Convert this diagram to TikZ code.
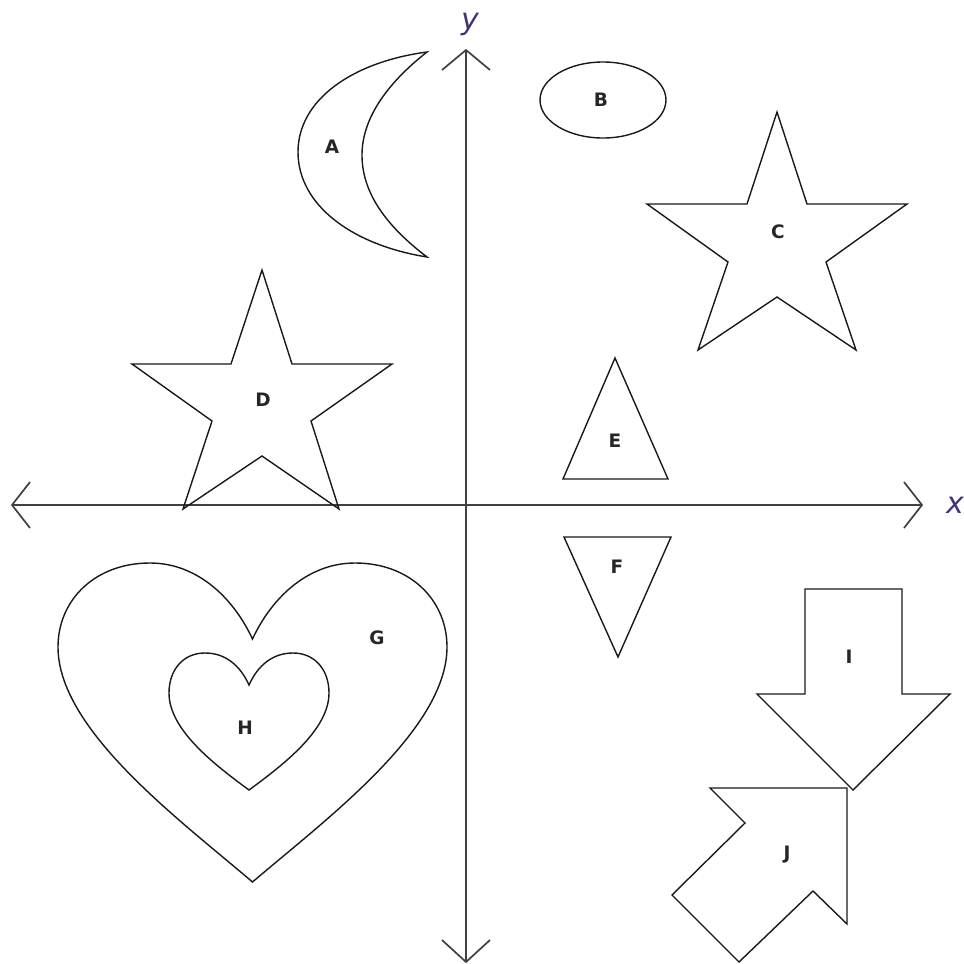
\documentclass[tikz,border=0pt]{standalone}
\usepackage{fontspec}
\setmainfont{DejaVu Sans}
\begin{document}
\begin{tikzpicture}[x=1pt,y=-1pt,
  outl/.style={draw=black!90,line width=1.4pt,line join=miter},
  axis/.style={draw=black!75,line width=1.7pt},
  lbl/.style={font=\fontsize{18.5}{20}\selectfont\bfseries,text=black!85,inner sep=0pt},
  axlbl/.style={font=\fontsize{30}{32}\selectfont\itshape,text={rgb,255:red,70;green,50;blue,120},inner sep=0pt}]
\useasboundingbox (0,0) rectangle (964,964);
% axes
\coordinate (xl) at (12,505);
\coordinate (xr) at (922,505);
\coordinate (yt) at (466,50);
\coordinate (yb) at (466,962);
\draw[axis] (xl) -- (xr);
\draw[axis] (yt) -- (yb);
\draw[axis] (30,482) -- (xl) -- (30,528);
\draw[axis] (904,482) -- (xr) -- (904,528);
\draw[axis] (442,70) -- (yt) -- (490,70);
\draw[axis] (442,940) -- (yb) -- (490,940);
\node[axlbl] (xlab) at (955,505) {x};
\node[axlbl] (ylab) at (470,24) {y};
% A moon
\draw[outl] (427,52) .. controls (352,62) and (298,100) .. (298,152)
  .. controls (298,205) and (352,245) .. (427,257)
  .. controls (385,225) and (362,192) .. (362,155)
  .. controls (362,120) and (385,85) .. cycle;
\node[lbl] (A) at (332,147) {A};
% B ellipse
\draw[outl] (603,100) ellipse [x radius=63, y radius=38];
\node[lbl] (B) at (601,100) {B};
% C star
\draw[outl] (777,112) -- (807,204) -- (907,204) -- (826,262) -- (856,350) -- (777,297)
  -- (698,350) -- (728,262) -- (647,204) -- (747,204) -- cycle;
\node[lbl] (C) at (778,232) {C};
% D star
\draw[outl] (262,270) -- (292,364) -- (392,364) -- (311,421) -- (339,509) -- (262,456)
  -- (183,509) -- (212,421) -- (132,364) -- (231,364) -- cycle;
\node[lbl] (D) at (263,400) {D};
% E triangle
\draw[outl] (615,358) -- (668,479) -- (563,479) -- cycle;
\node[lbl] (E) at (615,441) {E};
% F triangle
\draw[outl] (564,537) -- (671,537) -- (618,657) -- cycle;
\node[lbl] (F) at (617,567) {F};
% G heart
\draw[outl] (252.5,639) .. controls (232,595) and (195,563) .. (150,563)
  .. controls (95,563) and (58,600) .. (58,647)
  .. controls (58,730) and (180,820) .. (252.5,882)
  .. controls (325,820) and (447,730) .. (447,647)
  .. controls (447,600) and (410,563) .. (355,563)
  .. controls (310,563) and (273,595) .. cycle;
\node[lbl] (G) at (377,638) {G};
% H heart
\draw[outl] (249,685) .. controls (240,665) and (225,653) .. (205,653)
  .. controls (183,653) and (169,670) .. (169,693)
  .. controls (169,730) and (215,765) .. (249,790)
  .. controls (283,765) and (329,730) .. (329,693)
  .. controls (329,670) and (315,653) .. (293,653)
  .. controls (273,653) and (258,665) .. cycle;
\node[lbl] (H) at (245,728) {H};
% I arrow
\draw[outl] (805,589) -- (902,589) -- (902,694) -- (950,694) -- (853,790)
  -- (757,694) -- (805,694) -- cycle;
\node[lbl] (I) at (849,657) {I};
% J arrow
\draw[outl] (847,788) -- (847,924) -- (813,891) -- (739,962) -- (672,895)
  -- (745,823) -- (710,788) -- cycle;
\node[lbl] (J) at (787,855) {J};
\end{tikzpicture}
\end{document}
